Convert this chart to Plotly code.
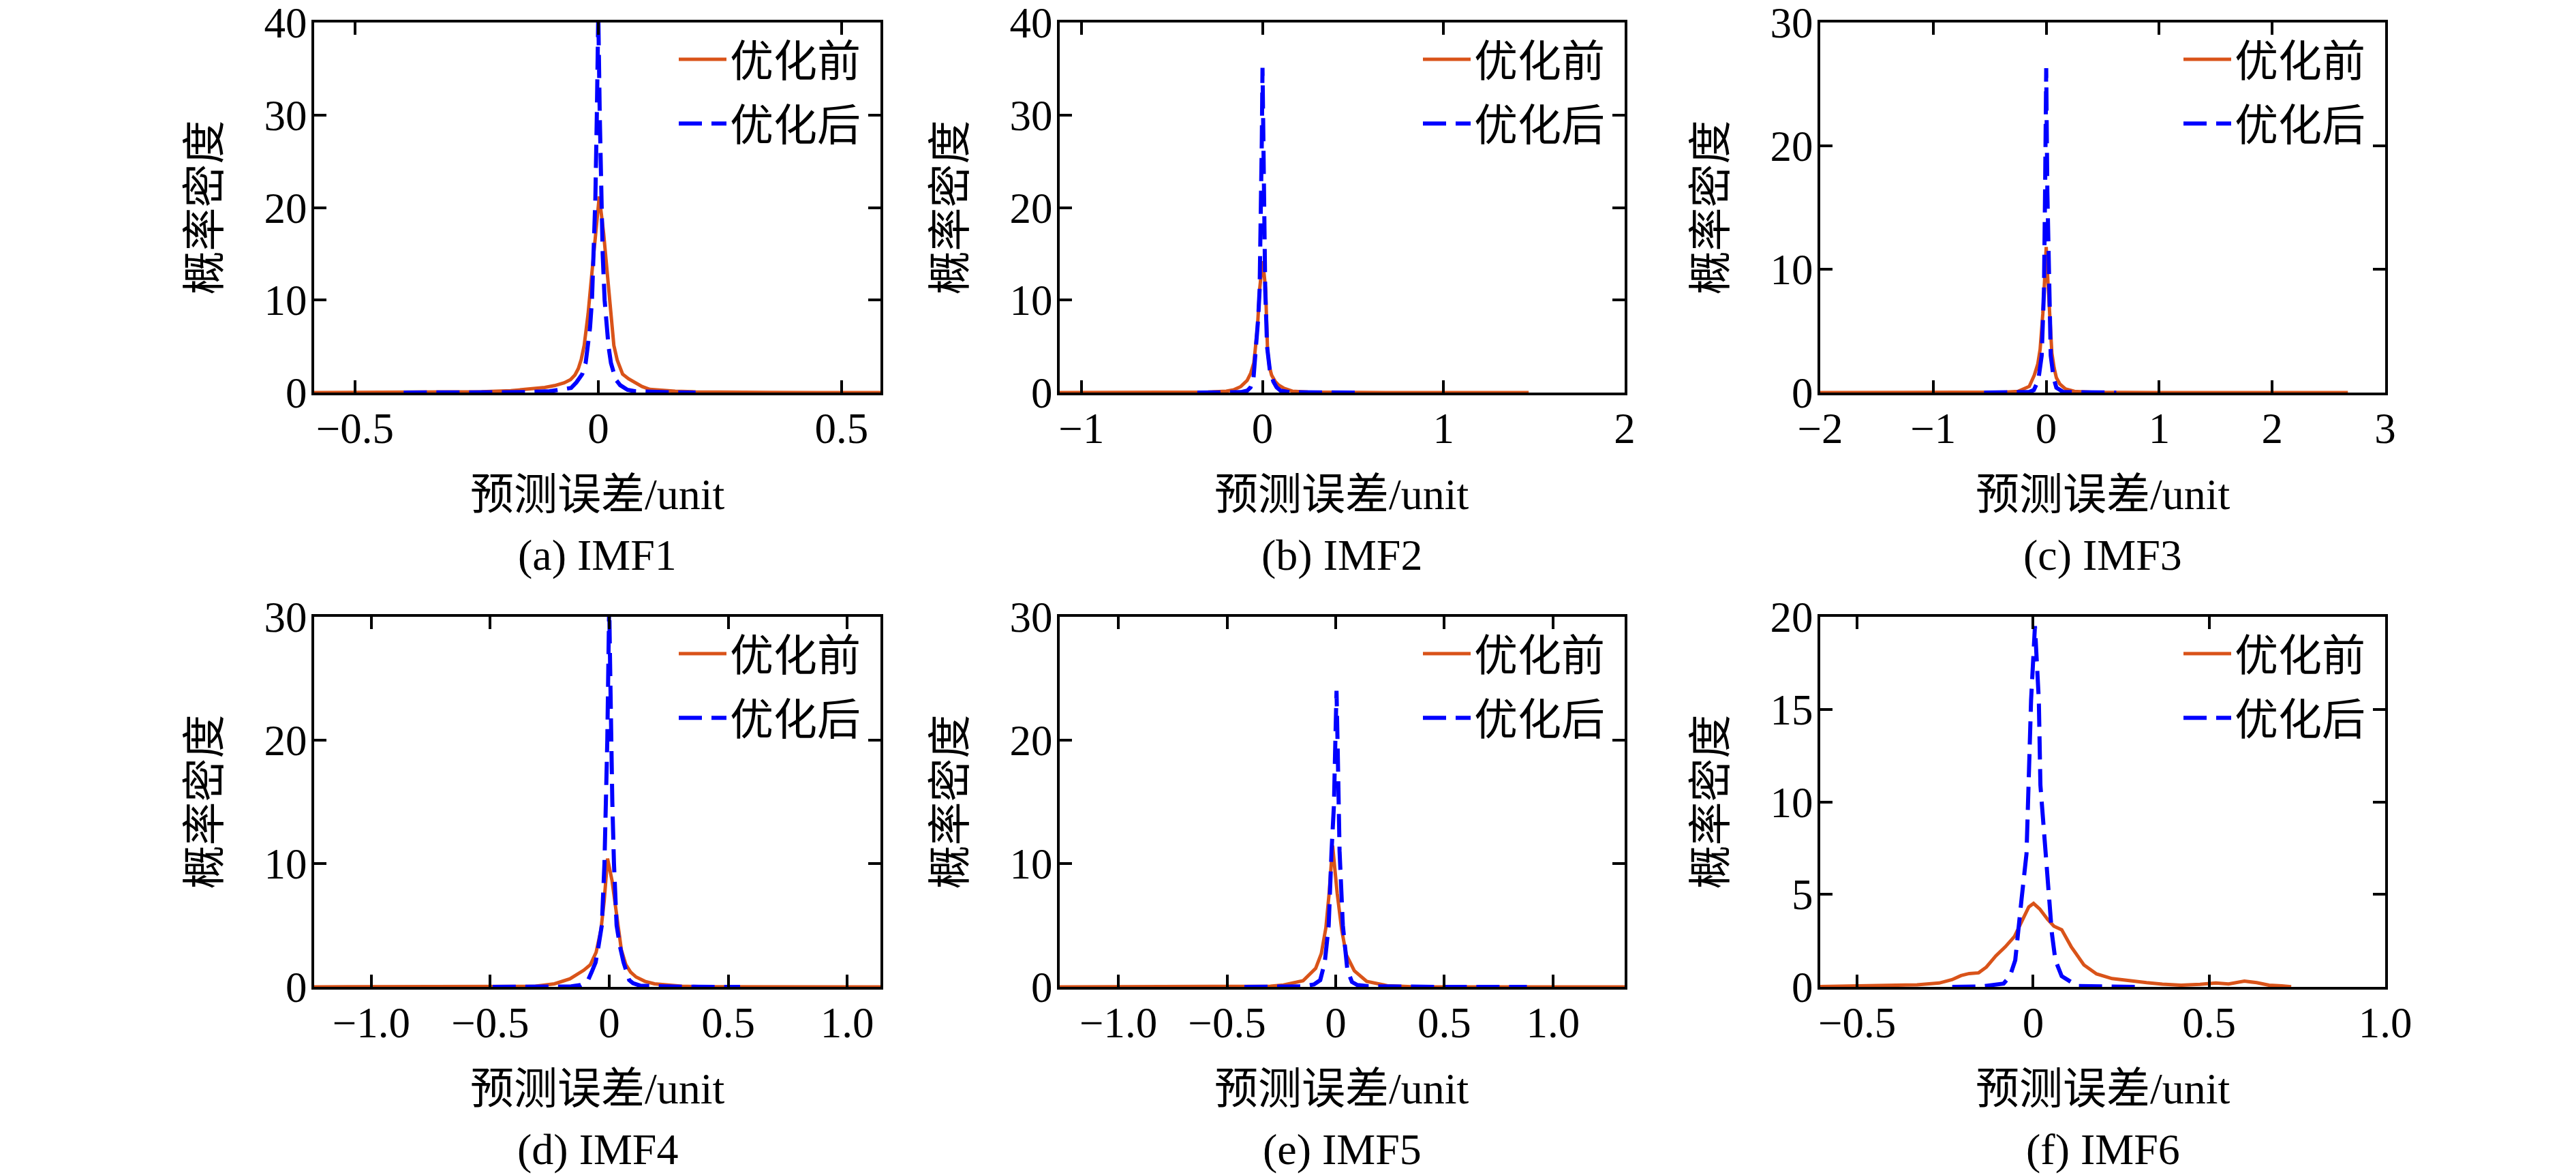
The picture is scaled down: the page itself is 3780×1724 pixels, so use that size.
import plotly.graph_objects as go

# ---- data (kernel density curves) ----
panels = ["a", "b", "c", "d", "e", "f"]
captions = ["(a) IMF1", "(b) IMF2", "(c) IMF3", "(d) IMF4", "(e) IMF5", "(f) IMF6"]
legend_names = ["优化前", "优化后"]

# before optimisation (orange)
before_x = {
    "a": [-0.584, -0.40, -0.30, -0.24, -0.18, -0.14, -0.11, -0.09, -0.07, -0.057, -0.048, -0.041, -0.035,
          -0.029, -0.021, -0.013, -0.006, 0.002, 0.011, 0.018, 0.025, 0.032, 0.039, 0.05, 0.062, 0.074,
          0.09, 0.106, 0.13, 0.158, 0.2, 0.26, 0.35, 0.45, 0.58],
    "b": [-1.12, -0.6, -0.4, -0.3, -0.2, -0.16, -0.12, -0.085, -0.065, -0.048, -0.041, -0.028, -0.016,
          -0.008, 0.0, 0.009, 0.0175, 0.023, 0.028, 0.038, 0.05, 0.07, 0.09, 0.12, 0.165, 0.25, 0.4, 0.7, 1.47],
    "c": [-2.0, -1.0, -0.5, -0.35, -0.25, -0.15, -0.106, -0.075, -0.054, -0.04, -0.03, -0.015, 0.0,
          0.015, 0.03, 0.04, 0.05, 0.07, 0.09, 0.12, 0.17, 0.25, 0.4, 1.0, 2.67],
    "d": [-1.24, -0.6, -0.4, -0.31, -0.23, -0.165, -0.107, -0.079, -0.055, -0.035, -0.021, -0.007,
          0.012, 0.032, 0.051, 0.07, 0.09, 0.113, 0.15, 0.19, 0.25, 0.305, 0.4, 0.6, 1.14],
    "e": [-1.27, -0.6, -0.4, -0.3, -0.24, -0.15, -0.092, -0.066, -0.045, -0.03, -0.014, 0.007, 0.028,
          0.049, 0.086, 0.143, 0.237, 0.35, 0.6, 1.33],
    "f": [-0.605, -0.42, -0.33, -0.267, -0.231, -0.205, -0.182, -0.155, -0.133, -0.106, -0.079, -0.053,
          -0.035, -0.0125, 0.001, 0.019, 0.041, 0.059, 0.081, 0.108, 0.144, 0.18, 0.224, 0.278, 0.322,
          0.367, 0.42, 0.474, 0.519, 0.555, 0.6, 0.635, 0.67, 0.706, 0.733],
}
before_y = {
    "a": [0, 0.01, 0.04, 0.1, 0.2, 0.35, 0.55, 0.75, 1.05, 1.4, 1.9, 2.6, 3.6, 5.1, 8.5, 13.0, 17.2,
          21.2, 17.2, 13.0, 8.5, 5.1, 3.5, 2.0, 1.5, 1.1, 0.65, 0.35, 0.25, 0.15, 0.08, 0.03, 0.01, 0, 0],
    "b": [0, 0, 0.01, 0.05, 0.15, 0.3, 0.65, 1.3, 2.1, 3.2, 4.5, 7.0, 11.1, 13.2, 14.2, 12.8, 11.1, 7.5,
          4.5, 2.8, 1.9, 1.2, 0.8, 0.45, 0.15, 0.05, 0.01, 0, 0],
    "c": [0, 0, 0.01, 0.04, 0.1, 0.5, 1.4, 2.3, 3.5, 4.8, 6.4, 9.0, 11.8, 9.0, 6.4, 4.6, 3.2, 2.0, 1.2,
          0.7, 0.3, 0.1, 0.03, 0, 0],
    "d": [0, 0, 0.01, 0.05, 0.25, 0.65, 1.35, 1.8, 2.8, 4.6, 7.0, 10.4, 8.6, 5.6, 3.0, 1.8, 1.2, 0.8,
          0.45, 0.25, 0.12, 0.05, 0.02, 0, 0],
    "e": [0, 0, 0.01, 0.05, 0.15, 0.5, 1.5, 2.7, 4.8, 7.6, 11.45, 7.6, 4.6, 2.6, 1.3, 0.45, 0.1, 0.02, 0, 0],
    "f": [0.02, 0.05, 0.11, 0.21, 0.39, 0.61, 0.72, 0.76, 1.07, 1.68, 2.17, 2.73, 3.40, 4.32, 4.51, 4.20,
          3.65, 3.28, 3.09, 2.17, 1.19, 0.70, 0.45, 0.31, 0.23, 0.15, 0.09, 0.14, 0.21, 0.16, 0.31, 0.23,
          0.09, 0.06, 0.01],
}

# after optimisation (blue dashed)
after_x = {
    "a": [-0.40, -0.25, -0.15, -0.10, -0.075, -0.056, -0.045, -0.033, -0.026, -0.021, -0.017, -0.013,
          -0.009, -0.006, -0.003, 0.0, 0.003, 0.006, 0.009, 0.013, 0.017, 0.021, 0.026, 0.036, 0.045,
          0.06, 0.075, 0.10, 0.15, 0.20],
    "b": [-0.36, -0.2, -0.12, -0.085, -0.066, -0.05, -0.033, -0.024, -0.016, -0.008, -0.004, 0.0, 0.004,
          0.008, 0.015, 0.022, 0.025, 0.04, 0.06, 0.078, 0.1, 0.15, 0.3, 0.54],
    "c": [-0.55, -0.3, -0.15, -0.11, -0.07, -0.04, -0.02, -0.01, -0.004, 0.0, 0.004, 0.01, 0.026, 0.04,
          0.065, 0.09, 0.15, 0.3, 0.62],
    "d": [-0.49, -0.3, -0.16, -0.12, -0.09, -0.074, -0.057, -0.045, -0.031, -0.02, -0.013, -0.008, -0.003,
          0.0, 0.003, 0.008, 0.013, 0.02, 0.031, 0.045, 0.06, 0.084, 0.1, 0.13, 0.2, 0.3, 0.55],
    "e": [-0.42, -0.25, -0.15, -0.1, -0.071, -0.05, -0.032, -0.019, -0.008, -0.003, 0.004, 0.01, 0.015,
          0.018, 0.033, 0.045, 0.054, 0.075, 0.1, 0.15, 0.3, 0.5, 0.88],
    "f": [-0.23, -0.15, -0.084, -0.066, -0.051, -0.044, -0.033, -0.019, -0.0125, -0.006, 0.005, 0.016,
          0.0205, 0.035, 0.044, 0.053, 0.063, 0.081, 0.126, 0.2, 0.3],
}
after_y = {
    "a": [0, 0.01, 0.05, 0.15, 0.3, 0.5, 1.1, 2.0, 3.2, 5.0, 7.0, 10.0, 15.0, 21.0, 30.0, 41.0, 30.0,
          21.0, 15.0, 10.0, 7.0, 5.0, 3.2, 1.4, 0.8, 0.3, 0.15, 0.08, 0.03, 0],
    "b": [0, 0.01, 0.05, 0.2, 0.56, 1.5, 5.0, 8.0, 11.1, 19.1, 27.0, 35.1, 27.0, 19.1, 11.1, 7.0, 5.0,
          2.5, 1.2, 0.56, 0.2, 0.05, 0.01, 0],
    "c": [0, 0.01, 0.05, 0.2, 1.0, 3.0, 8.3, 16.3, 22.0, 26.3, 22.0, 16.3, 8.3, 3.0, 1.2, 0.4, 0.05, 0.01, 0],
    "d": [0, 0.01, 0.04, 0.15, 0.5, 1.2, 2.0, 3.3, 5.0, 10.0, 15.0, 20.0, 27.0, 31.0, 27.0, 20.0, 15.0,
          10.0, 5.0, 3.3, 2.0, 0.55, 0.3, 0.1, 0.03, 0.01, 0],
    "e": [0, 0.01, 0.05, 0.2, 0.55, 2.0, 5.0, 11.0, 14.7, 18.7, 24.0, 18.7, 14.7, 11.0, 5.0, 2.5, 1.36,
          0.4, 0.15, 0.05, 0.01, 0, 0],
    "f": [0, 0.02, 0.18, 0.58, 1.44, 2.91, 4.75, 7.2, 10.9, 15.5, 19.5, 15.5, 10.9, 7.2, 4.75, 2.91, 1.44,
          0.58, 0.05, 0.01, 0],
}

# axes
x_ranges = {"a": [-0.584, 0.58], "b": [-1.12, 2.0], "c": [-2.0, 3.0],
            "d": [-1.24, 1.14], "e": [-1.27, 1.33], "f": [-0.605, 1.0]}
x_tickvals = {"a": [-0.5, 0, 0.5], "b": [-1, 0, 1, 2], "c": [-2, -1, 0, 1, 2, 3],
              "d": [-1.0, -0.5, 0, 0.5, 1.0], "e": [-1.0, -0.5, 0, 0.5, 1.0], "f": [-0.5, 0, 0.5, 1.0]}
x_ticktext = {"a": ["\u22120.5", "0", "0.5"], "b": ["\u22121", "0", "1", "2"],
              "c": ["\u22122", "\u22121", "0", "1", "2", "3"],
              "d": ["\u22121.0", "\u22120.5", "0", "0.5", "1.0"],
              "e": ["\u22121.0", "\u22120.5", "0", "0.5", "1.0"],
              "f": ["\u22120.5", "0", "0.5", "1.0"]}
y_max = {"a": 40, "b": 40, "c": 30, "d": 30, "e": 30, "f": 20}
y_dtick = {"a": 10, "b": 10, "c": 10, "d": 10, "e": 10, "f": 5}

x_label = "预测误差/unit"
y_label = "概率密度"

# ---- layout geometry ----
# target positions are in pixels of the 3780x1724 window; the page body has an
# 8px margin, so the figure is shifted back by that and runs to the window edge
SCREEN_W, SCREEN_H = 3780, 1724
OFF = 8
W, H = SCREEN_W - OFF, SCREEN_H - OFF
col_px = [(461, 1292), (1555, 2384), (2671, 3500)]
row_px = [(33, 576), (905, 1448)]
serif = "Liberation Serif, Noto Sans CJK SC, serif"
orange = "#D95319"
blue = "#0000FF"


def fx(px):
    return (px - OFF) / W


def fy(py):
    return 1 - (py - OFF) / H


fig = go.Figure()
layout = dict(width=W, height=H, margin=dict(l=0, r=0, t=0, b=0, pad=0),
              paper_bgcolor="white", plot_bgcolor="white", showlegend=True)
annotations = []

for i, p in enumerate(panels):
    r, c = divmod(i, 3)
    x0, x1 = col_px[c]
    y0, y1 = row_px[r]
    n = "" if i == 0 else str(i + 1)
    leg = "legend" + n

    fig.add_trace(go.Scatter(x=before_x[p], y=before_y[p], mode="lines", name=legend_names[0],
                             line=dict(color=orange, width=5), xaxis="x" + n, yaxis="y" + n,
                             legend=leg, legendgroup="before"))
    fig.add_trace(go.Scatter(x=after_x[p], y=after_y[p], mode="lines", name=legend_names[1],
                             line=dict(color=blue, width=6, dash="34px,14px"), xaxis="x" + n,
                             yaxis="y" + n, legend=leg, legendgroup="after"))

    axis_common = dict(showline=True, linecolor="black", linewidth=4, mirror="ticks",
                       ticks="inside", ticklen=18, tickwidth=4, tickcolor="black",
                       showgrid=False, zeroline=False, automargin=False,
                       ticklabeloverflow="allow",
                       tickfont=dict(family=serif, size=63, color="black"))
    layout["xaxis" + n] = dict(axis_common, domain=[fx(x0), fx(x1)], range=x_ranges[p],
                               tickmode="array", tickvals=x_tickvals[p], ticktext=x_ticktext[p],
                               anchor="y" + n, ticklabelstandoff=-6)
    layout["yaxis" + n] = dict(axis_common, domain=[fy(y1), fy(y0)], range=[0, y_max[p]],
                               tickmode="linear", tick0=0, dtick=y_dtick[p], anchor="x" + n,
                               ticklabelstandoff=-6)
    layout[leg] = dict(x=fx(x1 - 24), y=fy(y0 + 6), xanchor="right", yanchor="top",
                       bgcolor="rgba(0,0,0,0)", borderwidth=0, itemwidth=70,
                       traceorder="grouped", tracegroupgap=8,
                       font=dict(family=serif, size=64, color="black"))

    cx = (x0 + x1) / 2
    annotations.append(dict(text=x_label, x=fx(cx), y=fy(y1 + 149), xref="paper", yref="paper",
                            showarrow=False, xanchor="center", yanchor="middle",
                            font=dict(family=serif, size=64, color="black")))
    annotations.append(dict(text=captions[i], x=fx(cx), y=fy(y1 + 238), xref="paper",
                            yref="paper", showarrow=False, xanchor="center", yanchor="middle",
                            font=dict(family=serif, size=64, color="black")))
    annotations.append(dict(text=y_label, x=fx(x0 - 161), y=fy((y0 + y1) / 2), xref="paper",
                            yref="paper", showarrow=False, xanchor="center", yanchor="middle",
                            textangle=-90, font=dict(family=serif, size=64, color="black")))

layout["annotations"] = annotations
fig.update_layout(**layout)
fig.write_html("out.html")
